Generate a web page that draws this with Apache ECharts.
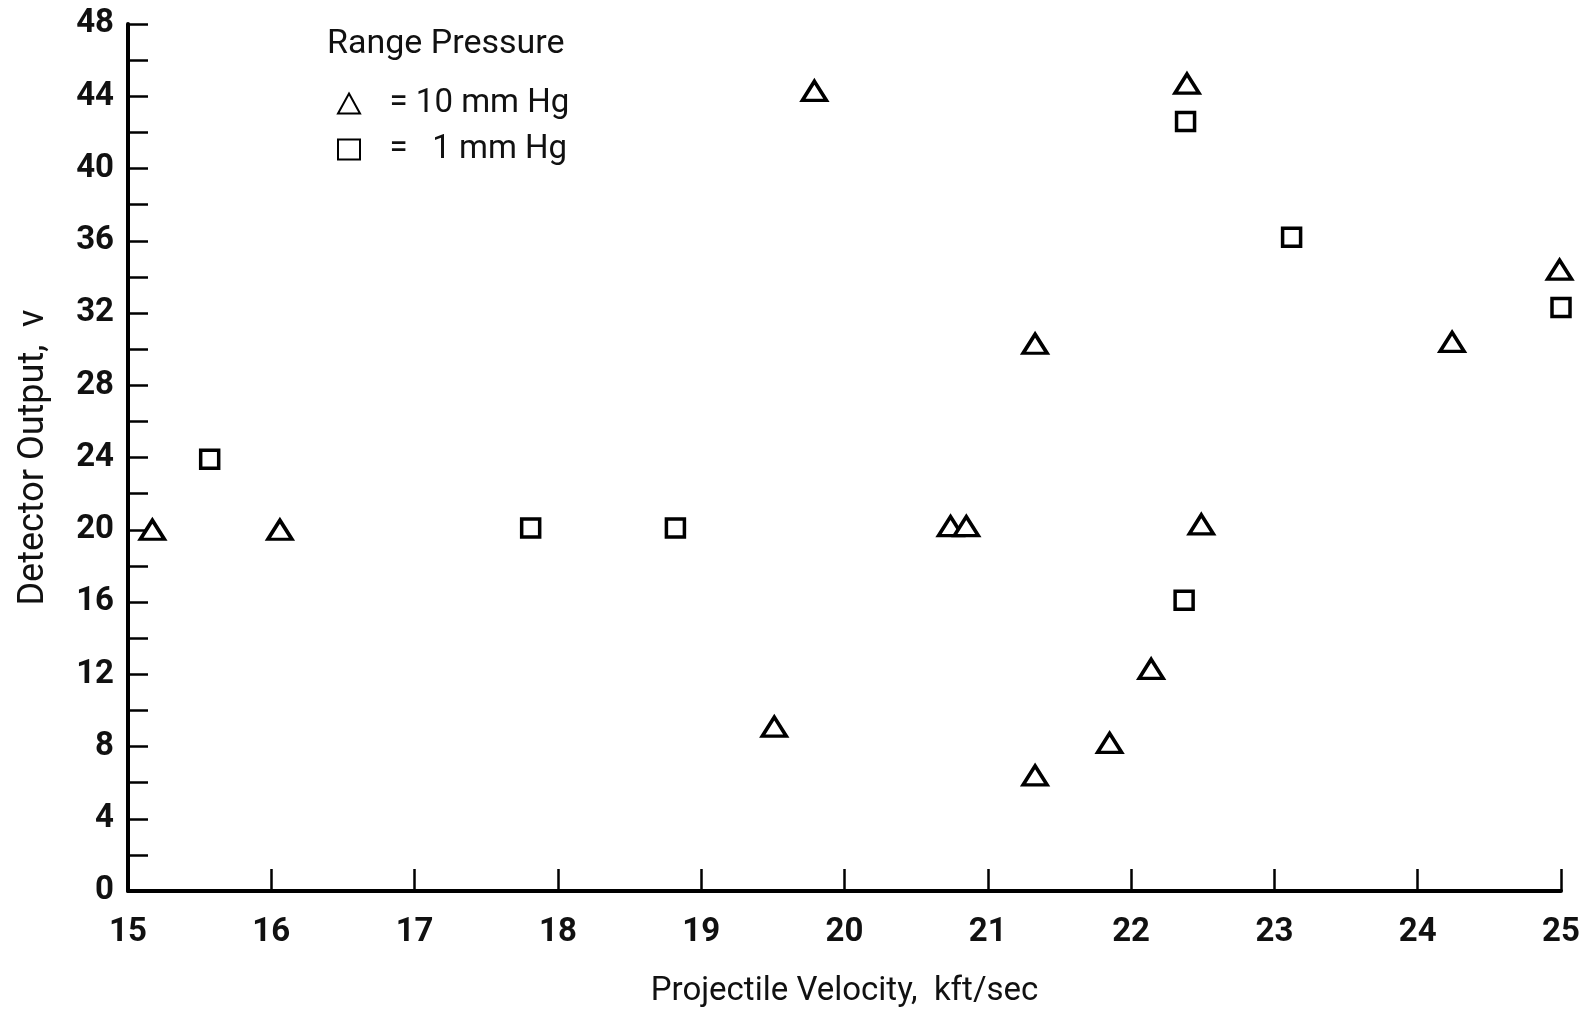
<!DOCTYPE html>
<html><head><meta charset="utf-8">
<script src="https://cdn.jsdelivr.net/npm/echarts@6/dist/echarts.min.js"></script>
<style>html,body{margin:0;padding:0;background:#fff}#c{width:1588px;height:1014px}</style>
</head><body><div id="c"></div>
<script>
var xTitle = 'Projectile Velocity,  kft/sec';
var yTitle = 'Detector Output,  v';
var legendTitle = 'Range Pressure';
var seriesNames = ['10 mm Hg', '1 mm Hg'];
var tri10x = [15.17, 16.06, 19.79, 19.51, 20.74, 20.85, 21.33, 21.33, 21.85, 22.14, 22.39, 22.49, 24.24, 24.99];
var tri10y = [20.0, 20.0, 44.3, 9.1, 20.2, 20.2, 30.3, 6.4, 8.2, 12.3, 44.7, 20.3, 30.4, 34.4];
var sq1x = [15.57, 17.81, 18.82, 22.38, 23.12, 22.37, 25.0];
var sq1y = [23.9, 20.1, 20.1, 42.6, 36.2, 16.1, 32.3];

var FONT = 'Roboto, "Liberation Sans", sans-serif';
function pairs(xs, ys){ return xs.map(function(x,i){ return [x, ys[i]]; }); }

var chart = echarts.init(document.getElementById('c'));
chart.setOption({
  backgroundColor: '#fff',
  animation: false,
  title: {
    text: legendTitle, left: 322, top: 22,
    textStyle: {fontFamily: FONT, fontSize: 34, fontWeight: 'normal', color: '#111'}
  },
  legend: {
    orient: 'vertical', left: 332, top: 82, itemGap: 13, itemWidth: 22, itemHeight: 20,
    data: seriesNames,
    formatter: function(n){ return n === '10 mm Hg' ? '   = 10 mm Hg' : '   =   1 mm Hg'; },
    textStyle: {fontFamily: FONT, fontSize: 33, color: '#111'},
    selectedMode: false
  },
  grid: {left: 128, right: 27, top: 24, bottom: 123, containLabel: false},
  xAxis: {
    type: 'value', min: 15, max: 25, interval: 1,
    name: xTitle, nameLocation: 'middle', nameGap: 84,
    nameTextStyle: {fontFamily: FONT, fontSize: 33, color: '#111'},
    axisLine: {show: true, lineStyle: {color: '#000', width: 4}},
    axisTick: {show: true, inside: true, length: 22, lineStyle: {color: '#000', width: 2.5}},
    axisLabel: {fontFamily: FONT, fontSize: 33, fontWeight: 'bold', color: '#111', margin: 25},
    splitLine: {show: false}
  },
  yAxis: {
    type: 'value', min: 0, max: 48, interval: 4,
    name: yTitle, nameLocation: 'middle', nameGap: 76, nameRotate: 90,
    nameTextStyle: {fontFamily: FONT, fontSize: 36, color: '#111'},
    axisLine: {show: true, lineStyle: {color: '#000', width: 4}},
    axisTick: {show: true, inside: true, length: 20, lineStyle: {color: '#000', width: 2.5}},
    minorTick: {show: true, splitNumber: 2, length: 20, lineStyle: {color: '#000', width: 2.5}},
    axisLabel: {fontFamily: FONT, fontSize: 33, fontWeight: 'bold', color: '#111', margin: 14},
    splitLine: {show: false}
  },
  series: [
    {
      name: seriesNames[0], type: 'scatter', symbol: 'triangle', symbolSize: [24, 19],
      itemStyle: {color: '#fff', borderColor: '#000', borderWidth: 3.5, opacity: 1},
      data: pairs(tri10x, tri10y), z: 3
    },
    {
      name: seriesNames[1], type: 'scatter', symbol: 'rect', symbolSize: 18,
      itemStyle: {color: '#fff', borderColor: '#000', borderWidth: 3.5, opacity: 1},
      data: pairs(sq1x, sq1y), z: 3
    }
  ]
});
</script></body></html>
